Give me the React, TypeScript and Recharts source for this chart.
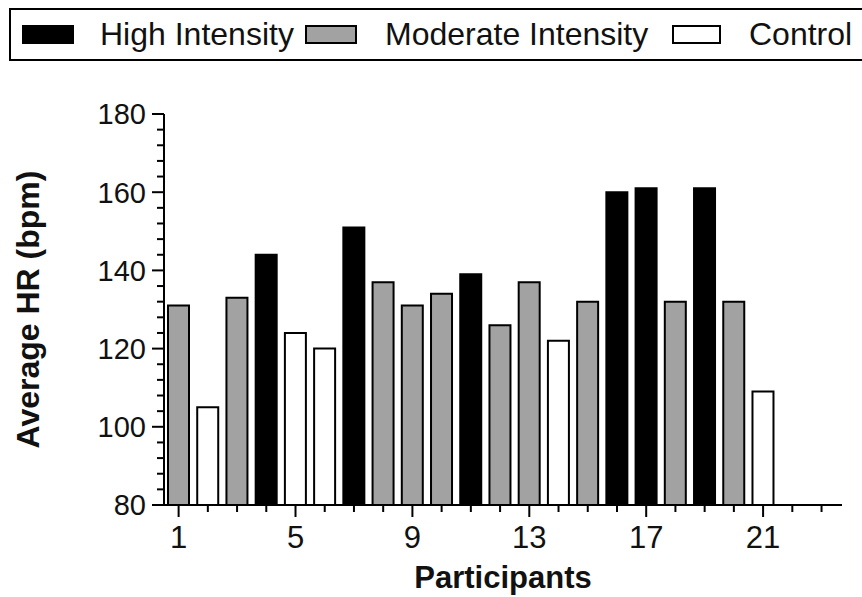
import React from "react";
import { BarChart, Bar, XAxis, YAxis, Cell } from "recharts";

const participants = [1, 2, 3, 4, 5, 6, 7, 8, 9, 10, 11, 12, 13, 14, 15, 16, 17, 18, 19, 20, 21];
const avgHR = [131, 105, 133, 144, 124, 120, 151, 137, 131, 134, 139, 126, 137, 122, 132, 160, 161, 132, 161, 132, 109];
const groups = [
  "Moderate", "Control", "Moderate", "High", "Control", "Control", "High",
  "Moderate", "Moderate", "Moderate", "High", "Moderate", "Moderate", "Control",
  "Moderate", "High", "High", "Moderate", "High", "Moderate", "Control",
];

const groupLabels = ["High Intensity", "Moderate Intensity", "Control"];
const groupKeys = ["High", "Moderate", "Control"];
const groupFills: Record<string, string> = {
  High: "#000000",
  Moderate: "#a2a2a2",
  Control: "#ffffff",
};

const yTicks = [80, 84, 88, 92, 96, 100, 104, 108, 112, 116, 120, 124, 128, 132, 136, 140, 144, 148, 152, 156, 160, 164, 168, 172, 176, 180];
const yMajor = [80, 100, 120, 140, 160, 180];
const xTicks = [1, 2, 3, 4, 5, 6, 7, 8, 9, 10, 11, 12, 13, 14, 15, 16, 17, 18, 19, 20, 21, 22, 23];
const xMajor = [1, 5, 9, 13, 17, 21];

const data = participants.map((p, i) => ({ participant: p, hr: avgHR[i], group: groups[i] }));

const FONT = "'Liberation Sans', Arial, Helvetica, sans-serif";

function YTick(props: any) {
  const { x, y, payload } = props;
  const major = yMajor.includes(payload.value);
  return (
    <g>
      <line x1={x + (major ? 6 : 11)} x2={x + 18} y1={y} y2={y} stroke="#000" strokeWidth={2} />
      {major && (
        <text x={x} y={y} dy="0.36em" textAnchor="end" fontSize={29} fontFamily={FONT} fill="#111">
          {payload.value}
        </text>
      )}
    </g>
  );
}

function XTick(props: any) {
  const { x, y, payload } = props;
  const major = xMajor.includes(payload.value);
  return (
    <g>
      <line x1={x} x2={x} y1={y - 16} y2={y - (major ? 4 : 9)} stroke="#000" strokeWidth={2} />
      {major && (
        <text x={x} y={y + 27} textAnchor="middle" fontSize={31} fontFamily={FONT} fill="#111">
          {payload.value}
        </text>
      )}
    </g>
  );
}

const legendPos = [
  { rx: 23, rw: 50, tx: 100 },
  { rx: 306, rw: 50, tx: 385 },
  { rx: 673, rw: 47, tx: 749 },
];

export default function App() {
  return (
    <div style={{ position: "absolute", left: 0, top: 0, width: 862, height: 597, overflow: "hidden", background: "#fff" }}>
      <svg width={862} height={70} style={{ position: "absolute", left: 0, top: 0 }}>
        <rect x={10} y={9} width={880} height={51} fill="none" stroke="#000" strokeWidth={2} />
        {groupKeys.map((k, i) => (
          <g key={k}>
            <rect
              x={legendPos[i].rx}
              y={26}
              width={legendPos[i].rw}
              height={17}
              fill={groupFills[k]}
              stroke="#000"
              strokeWidth={2}
            />
            <text x={legendPos[i].tx} y={45} fontSize={32} fontFamily={FONT} fill="#111">
              {groupLabels[i]}
            </text>
          </g>
        ))}
      </svg>
      <BarChart
        width={862}
        height={597}
        data={data}
        margin={{ top: 114, right: 20, bottom: 0, left: 0 }}
        style={{ position: "absolute", left: 0, top: 0 }}
      >
        <XAxis
          dataKey="participant"
          type="number"
          domain={[0.5, 23.7]}
          ticks={xTicks}
          interval={0}
          height={92}
          tickSize={12}
          tickMargin={4}
          tickLine={false}
          axisLine={{ stroke: "#000", strokeWidth: 2 }}
          tick={<XTick />}
          label={(p: any) => {
            const vb = p.viewBox;
            return (
              <text
                x={vb.x + vb.width / 2}
                y={588}
                textAnchor="middle"
                fontSize={31}
                fontWeight="bold"
                fontFamily={FONT}
                fill="#111"
              >
                Participants
              </text>
            );
          }}
        />
        <YAxis
          type="number"
          domain={[80, 180]}
          ticks={yTicks}
          interval={0}
          width={164}
          tickSize={12}
          tickMargin={6}
          tickLine={false}
          axisLine={{ stroke: "#000", strokeWidth: 2 }}
          tick={<YTick />}
          label={(p: any) => {
            const vb = p.viewBox;
            const cx = 28;
            const cy = vb.y + vb.height / 2;
            return (
              <text
                x={cx}
                y={cy}
                transform={`rotate(-90 ${cx} ${cy})`}
                textAnchor="middle"
                dominantBaseline="central"
                fontSize={32}
                fontWeight="bold"
                fontFamily={FONT}
                fill="#111"
              >
                Average HR (bpm)
              </text>
            );
          }}
        />
        <Bar dataKey="hr" barSize={21} stroke="#000" strokeWidth={2} isAnimationActive={false}>
          {data.map((d) => (
            <Cell key={d.participant} fill={groupFills[d.group]} />
          ))}
        </Bar>
      </BarChart>
    </div>
  );
}
